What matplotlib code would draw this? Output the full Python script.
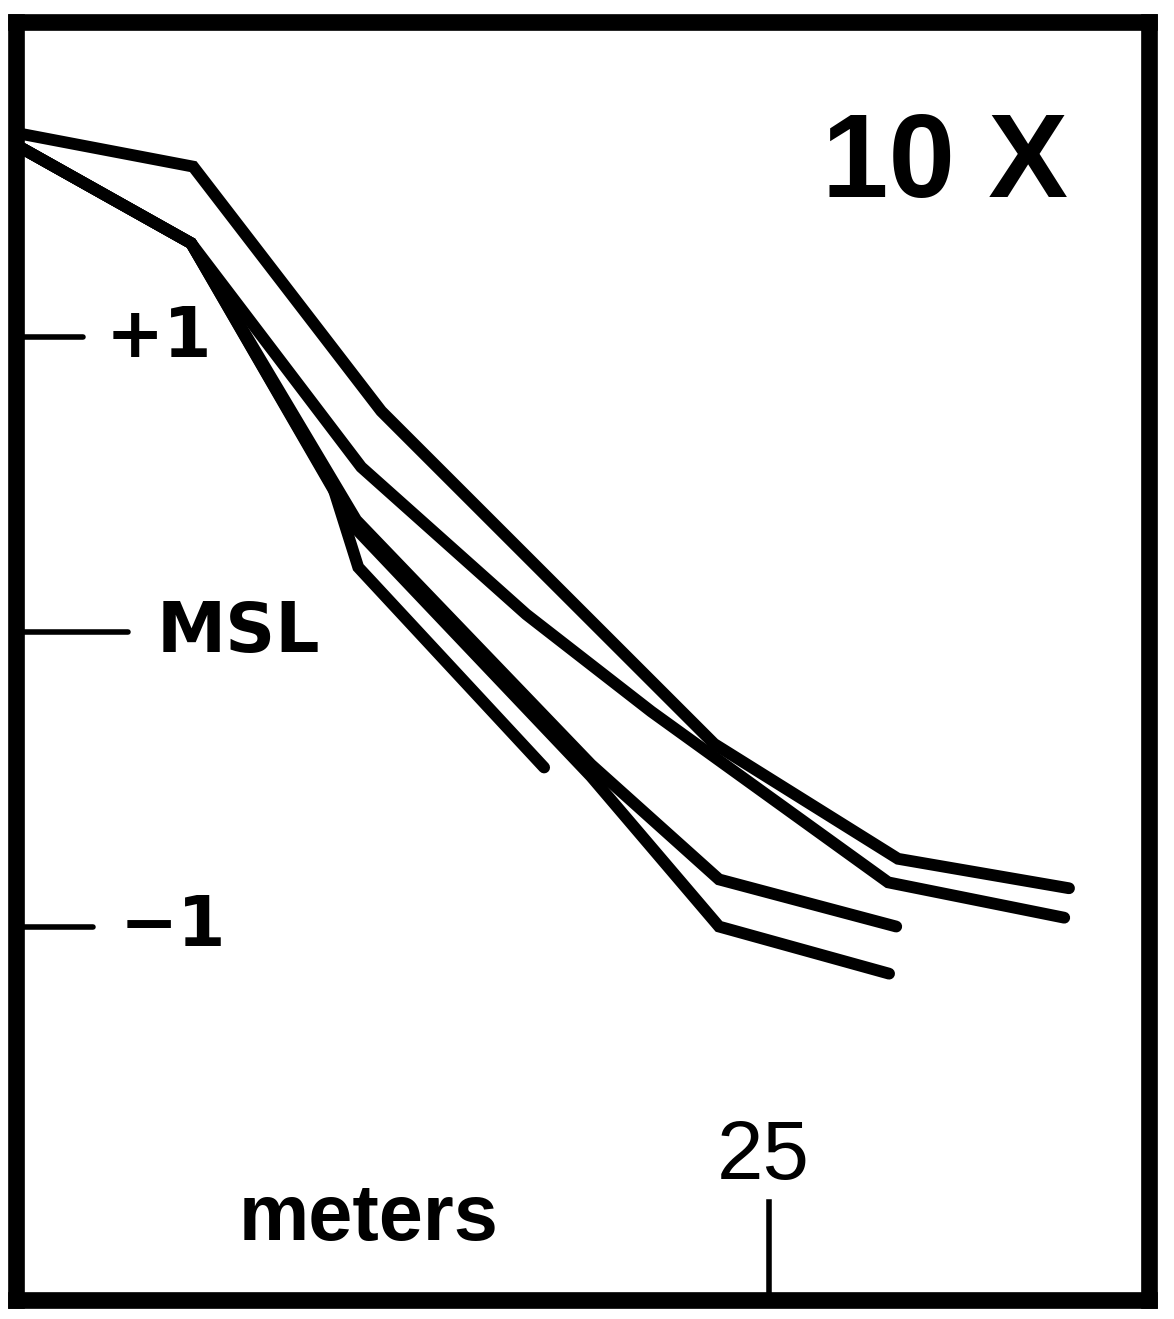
import matplotlib
matplotlib.use('Agg')
import matplotlib.pyplot as plt
from matplotlib import rcParams

rcParams['font.family'] = ['DejaVu Sans']

# === profiles: distance (m), elevation rel. MSL (m) ===
a_x = [0.0, 5.70, 12.00, 23.16, 29.32, 35.05]
a_y = [1.69, 1.58, 0.75, -0.38, -0.77, -0.87]

b_x = [0.0, 5.63, 11.33, 16.86, 21.05, 28.99, 34.89]
b_y = [1.64, 1.32, 0.56, 0.06, -0.27, -0.85, -0.97]

c_x = [0.0, 5.63, 11.16, 19.03, 23.32, 29.26]
c_y = [1.64, 1.32, 0.38, -0.45, -0.84, -1.00]

d_x = [0.0, 5.63, 11.16, 19.03, 23.32, 29.02]
d_y = [1.64, 1.32, 0.35, -0.49, -1.00, -1.16]

e_x = [0.0, 5.63, 10.39, 11.23, 17.46]
e_y = [1.64, 1.32, 0.49, 0.22, -0.46]

profiles = [(a_x, a_y), (b_x, b_y), (c_x, c_y), (d_x, d_y), (e_x, e_y)]

# y ticks (m) with their labels and drawn length (m along x)
ytick_vals = [1, 0, -1]
ytick_labels = ['+1', 'MSL', '\u22121']
ytick_lens = [2.0, 3.5, 2.35]
ytick_label_x = [2.75, 4.46, 3.25]

xtick_val = 25
xtick_top = -1.935

fig = plt.figure(figsize=(11.74, 13.19), dpi=100)
ax = fig.add_axes([0.0136, 0.0144, 0.9651, 0.9689])
ax.set_xlim(-0.24, 37.73)
ax.set_ylim(-2.268, 2.071)

for px, py in profiles:
    ax.plot(px, py, '-', color='black', linewidth=8.5,
            solid_joinstyle='miter', solid_capstyle='round')

for sp in ax.spines.values():
    sp.set_linewidth(12)
    sp.set_color('black')
ax.set_xticks([])
ax.set_yticks([])

# inward tick marks
for v, lab, ln, lx in zip(ytick_vals, ytick_labels, ytick_lens, ytick_label_x):
    ax.plot([-0.24, ln], [v, v], color='black', linewidth=4, solid_capstyle='round')
    ax.text(lx, v, lab, fontsize=50, fontweight='bold', ha='left', va='center')

ax.plot([xtick_val, xtick_val], [-2.268, xtick_top], color='black', linewidth=4)
ax.text(xtick_val - 0.2, xtick_top + 0.02, '25', fontsize=60, ha='center', va='bottom',
        family=['Liberation Sans Narrow', 'Liberation Sans', 'DejaVu Sans'])
ax.text(11.56, -2.065, 'meters', fontsize=57, fontweight='bold', ha='center', va='baseline',
        family=['Liberation Sans Narrow', 'Liberation Sans', 'DejaVu Sans'])

ax.text(30.9, 1.58, '10 X', fontsize=86, fontweight='bold', ha='center', va='center',
        family=['Liberation Sans', 'DejaVu Sans'])

fig.savefig('out.png', dpi=100, facecolor='white')
